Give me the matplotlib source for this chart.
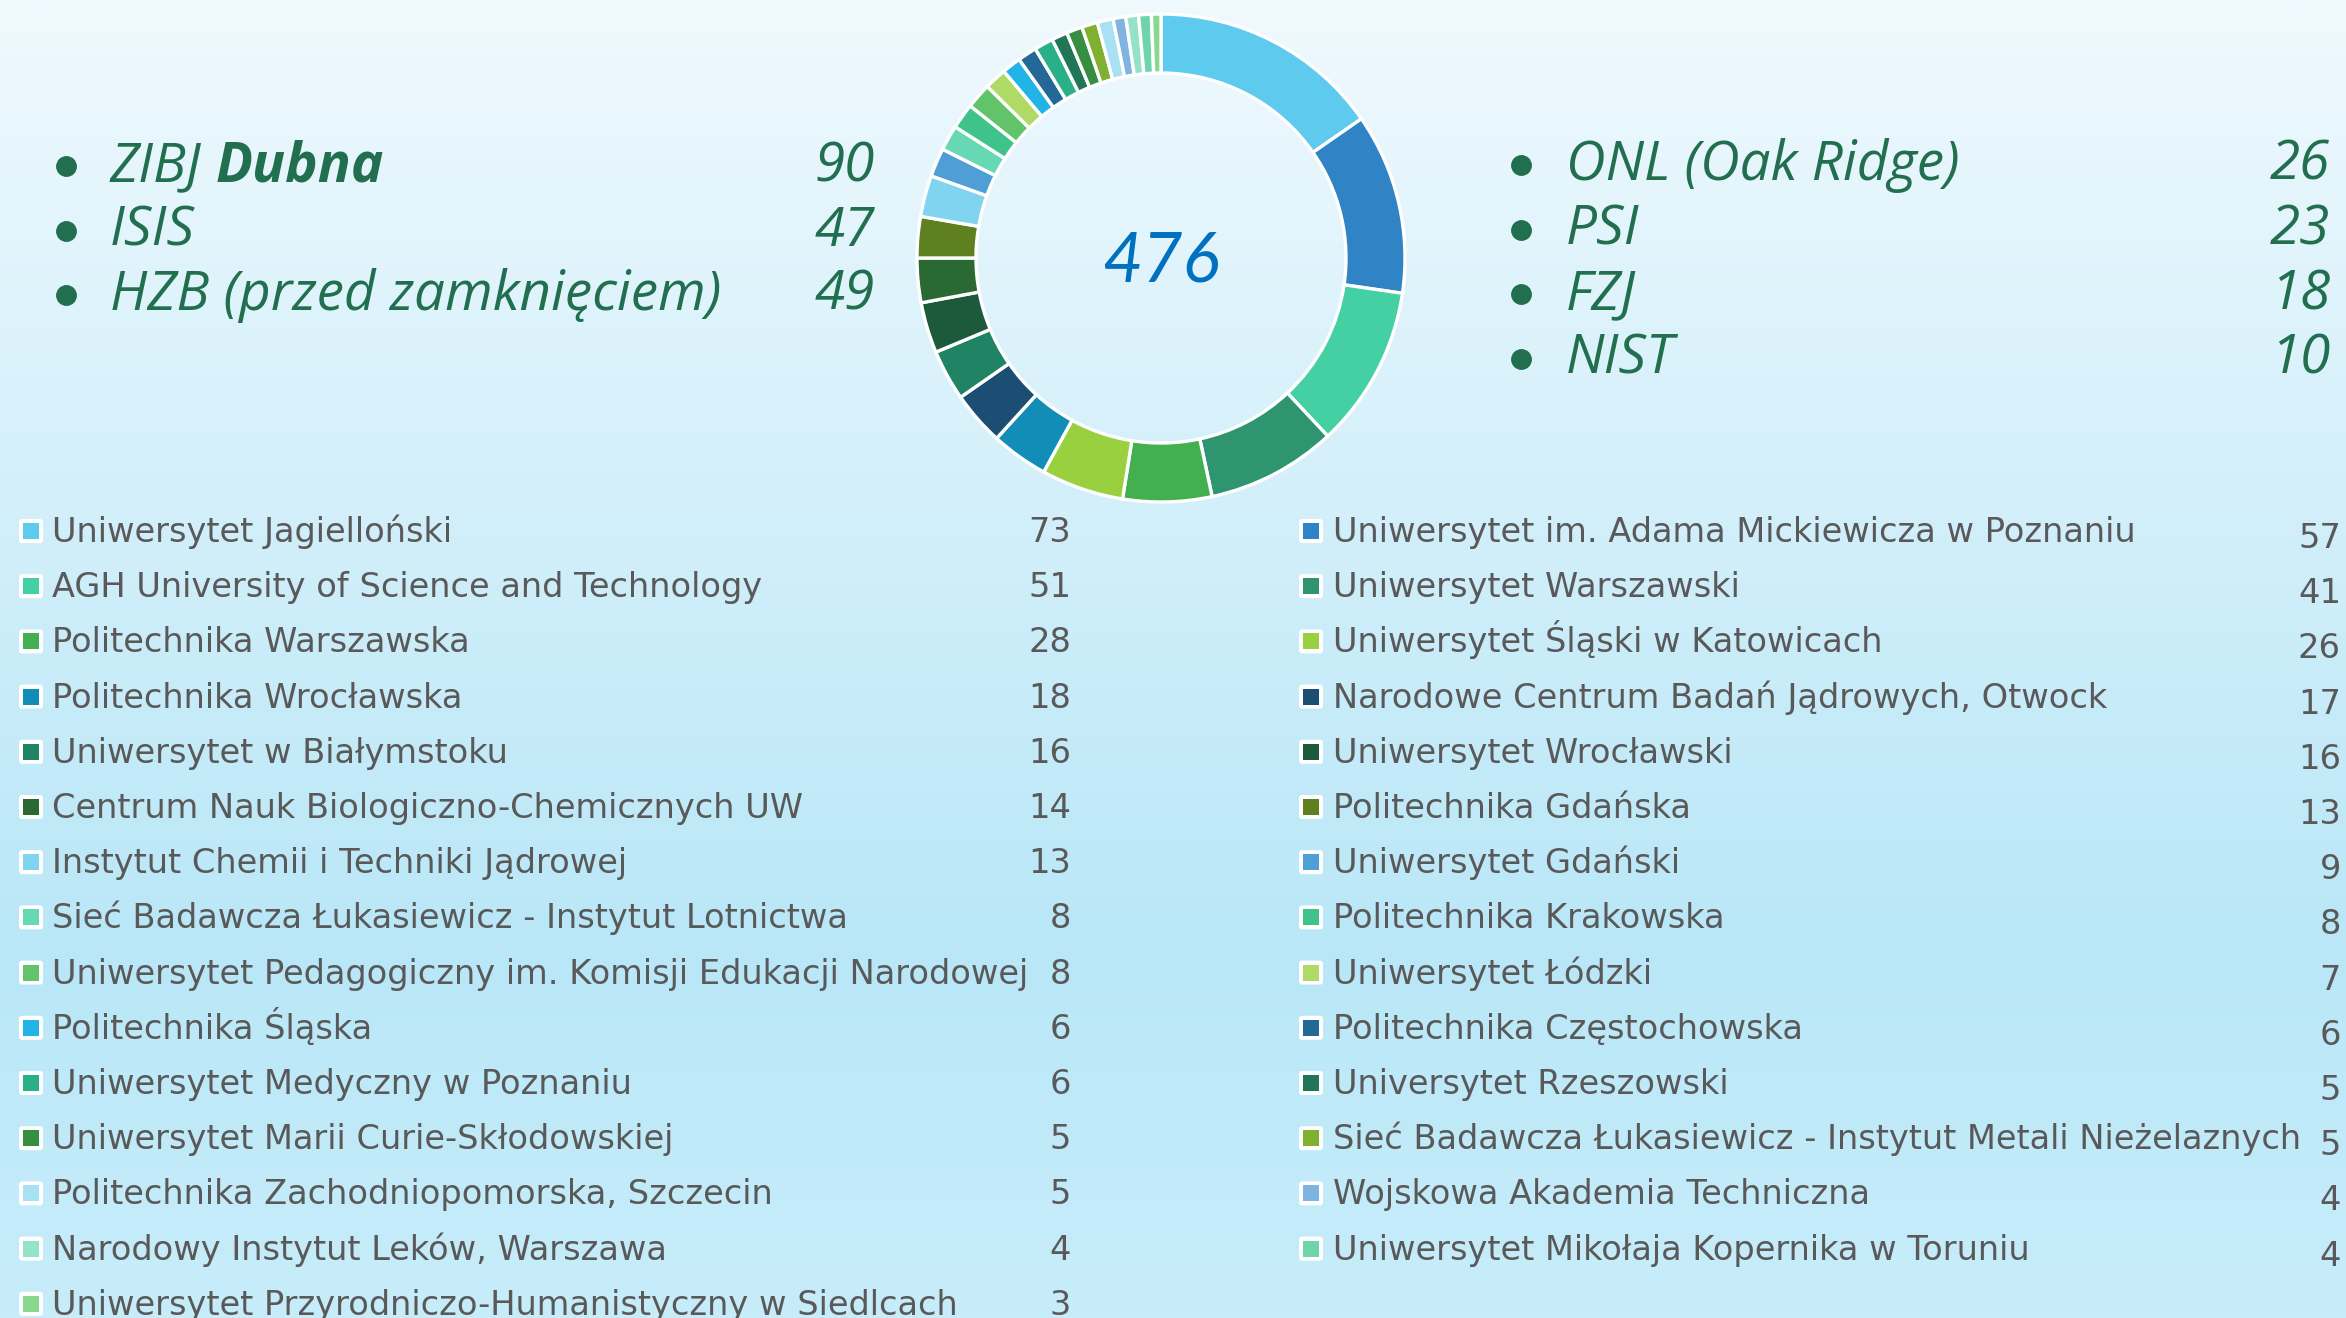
import numpy as np
import matplotlib
matplotlib.use("Agg")
import matplotlib.pyplot as plt
from matplotlib.colors import LinearSegmentedColormap
from matplotlib.patches import FancyBboxPatch, Rectangle

# ---------------- data ----------------
institutions = [
    "Uniwersytet Jagielloński",
    "Uniwersytet im. Adama Mickiewicza w Poznaniu",
    "AGH University of Science and Technology",
    "Uniwersytet Warszawski",
    "Politechnika Warszawska",
    "Uniwersytet Śląski w Katowicach",
    "Politechnika Wrocławska",
    "Narodowe Centrum Badań Jądrowych, Otwock",
    "Uniwersytet w Białymstoku",
    "Uniwersytet Wrocławski",
    "Centrum Nauk Biologiczno-Chemicznych UW",
    "Politechnika Gdańska",
    "Instytut Chemii i Techniki Jądrowej",
    "Uniwersytet Gdański",
    "Sieć Badawcza Łukasiewicz - Instytut Lotnictwa",
    "Politechnika Krakowska",
    "Uniwersytet Pedagogiczny im. Komisji Edukacji Narodowej",
    "Uniwersytet Łódzki",
    "Politechnika Śląska",
    "Politechnika Częstochowska",
    "Uniwersytet Medyczny w Poznaniu",
    "Universytet Rzeszowski",
    "Uniwersytet Marii Curie-Skłodowskiej",
    "Sieć Badawcza Łukasiewicz - Instytut Metali Nieżelaznych",
    "Politechnika Zachodniopomorska, Szczecin",
    "Wojskowa Akademia Techniczna",
    "Narodowy Instytut Leków, Warszawa",
    "Uniwersytet Mikołaja Kopernika w Toruniu",
    "Uniwersytet Przyrodniczo-Humanistyczny w Siedlcach",
]
counts = [73, 57, 51, 41, 28, 26, 18, 17, 16, 16, 14, 13, 13, 9, 8, 8, 8, 7,
          6, 6, 6, 5, 5, 5, 5, 4, 4, 4, 3]
total_label = "476"

facilities_left = ["ZIBJ ", "ISIS", "HZB (przed zamknięciem)"]
facilities_left_bold = ["Dubna", "", ""]
facilities_left_values = [90, 47, 49]
facilities_right = ["ONL (Oak Ridge)", "PSI", "FZJ", "NIST"]
facilities_right_values = [26, 23, 18, 10]

# ---------------- style ----------------
slice_colors = [
    "#5ecaee", "#3083c4", "#44d0a2", "#2e9570", "#43b050", "#99d040",
    "#128db8", "#1c4d73", "#208464", "#1d5a3c", "#2a6932", "#5e8020",
    "#80d4f0", "#509ed6", "#66d8b4", "#3ec48a", "#62c46a", "#b0da66",
    "#22b4e6", "#246898", "#2ab088", "#227658", "#368e40", "#80b030",
    "#a8e0f4", "#80b4e0", "#94e2c8", "#6ed4ac", "#8ad890",
]
W, H = 2346, 1318
GREEN = "#216f4f"
GRAY = "#595959"
BLUE = "#0070c0"
FONT = "DejaVu Sans"
TFONT = "Open Sans"
NFONT = "Lato"

fig = plt.figure(figsize=(W / 100, H / 100), dpi=100)

# background gradient
bg = fig.add_axes([0, 0, 1, 1], zorder=0)
cmap = LinearSegmentedColormap.from_list(
    "bg", [(0.0, "#f0f9fe"), (0.72, "#b9e7f7"), (1.0, "#c8edfa")])
bg.imshow(np.linspace(0, 1, 512).reshape(-1, 1), cmap=cmap, aspect="auto",
          extent=(0, 1, 0, 1), origin="upper")
bg.axis("off")

# overlay axes in pixel coordinates
ov = fig.add_axes([0, 0, 1, 1], zorder=2)
ov.set_xlim(0, W)
ov.set_ylim(H, 0)
ov.axis("off")
ov.patch.set_alpha(0)

fig.canvas.draw()
renderer = fig.canvas.get_renderer()


def fit_size(text, target_px, **kw):
    t = ov.text(0, 0, text, fontsize=20, **kw)
    w = t.get_window_extent(renderer).width
    t.remove()
    return 20 * target_px / w


# donut
cx, cy, R0, R = 1161, 258, 250, 244
pa = fig.add_axes([(cx - R0) / W, 1 - (cy + R0) / H, 2 * R0 / W, 2 * R0 / H],
                  zorder=1)
pa.pie(counts, colors=slice_colors, radius=R, startangle=90, counterclock=False,
       wedgeprops=dict(width=59, edgecolor="white", linewidth=2.4))
pa.set_xlim(-R0, R0)
pa.set_ylim(-R0, R0)
pa.set_aspect("equal")
pa.axis("off")
pa.text(0, -4, total_label, ha="center", va="center", color=BLUE,
        fontsize=50, style="italic", family=NFONT)

# facilities lists
TSIZE = fit_size("HZB (przed zamknięciem)", 612, family=TFONT, style="italic")
row0, dy = 181, 64.5
for i, (lab, bold, v) in enumerate(zip(facilities_left, facilities_left_bold,
                                       facilities_left_values)):
    y = row0 + i * dy
    ov.plot([66], [y - 15], "o", color=GREEN, markersize=14)
    t = ov.text(110, y, lab, color=GREEN, fontsize=TSIZE, style="italic",
                family=TFONT, ha="left", va="baseline")
    if bold:
        bb = t.get_window_extent(renderer)
        ov.text(bb.x1, y, bold, color=GREEN, fontsize=TSIZE, style="italic",
                weight="bold", family=TFONT, ha="left", va="baseline")
    ov.text(875, y, str(v), color=GREEN, fontsize=TSIZE, style="italic",
            family=TFONT, ha="right", va="baseline")

for i, (lab, v) in enumerate(zip(facilities_right, facilities_right_values)):
    y = row0 + i * dy - 1
    ov.plot([1521], [y - 15], "o", color=GREEN, markersize=14)
    ov.text(1566, y, lab, color=GREEN, fontsize=TSIZE, style="italic",
            family=TFONT, ha="left", va="baseline")
    ov.text(2330, y, str(v), color=GREEN, fontsize=TSIZE, style="italic",
            family=TFONT, ha="right", va="baseline")

# legend of institutions (two columns)
LSIZE = fit_size("Uniwersytet Pedagogiczny im. Komisji Edukacji Narodowej",
                 978, family=FONT)
base0, ldy = 542, 55.2
for k, (lab, v, col) in enumerate(zip(institutions, counts, slice_colors)):
    column, row = k % 2, k // 2
    y = base0 + row * ldy
    if column == 0:
        mx, tx, nx, noff = 31, 52, 1071, 0
    else:
        mx, tx, nx, noff = 1311, 1333, 2341, 6
    ov.add_patch(FancyBboxPatch((mx - 12, y - 23), 24, 24,
                                boxstyle="round,pad=0,rounding_size=3",
                                facecolor="white", edgecolor="none", zorder=3))
    ov.add_patch(Rectangle((mx - 8, y - 19), 16, 16, facecolor=col,
                           edgecolor="none", zorder=4))
    ov.text(tx, y, lab, color=GRAY, fontsize=LSIZE, family=FONT,
            ha="left", va="baseline")
    ov.text(nx, y + noff, str(v), color=GRAY, fontsize=LSIZE, family=FONT,
            ha="right", va="baseline")

fig.savefig("out.png", dpi=100)
